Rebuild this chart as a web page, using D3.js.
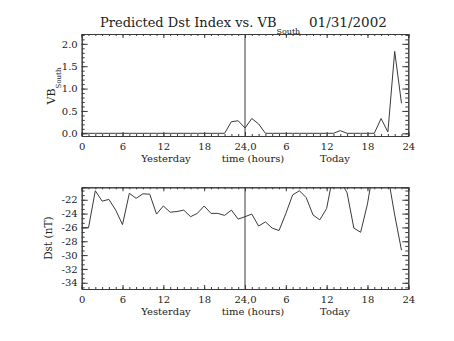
<!DOCTYPE html>
<html><head><meta charset="utf-8">
<script src="https://cdn.jsdelivr.net/npm/d3@7"></script>
<style>
html,body{margin:0;padding:0;background:#fff;}
text{font-family:"DejaVu Serif",serif;fill:#222;}
</style></head>
<body><svg id="c" width="454" height="341"></svg>
<script>
// ---- data ----
const hours = [0,1,2,3,4,5,6,7,8,9,10,11,12,13,14,15,16,17,18,19,20,21,22,23,
               24,25,26,27,28,29,30,31,32,33,34,35,36,37,38,39,40,41,42,43,44,45,46,47];
const vbSouth = [0,0,0,0,0,0,0,0,0,0,0,0,0,0,0,0,0,0,0,0,0,0,0.26,0.28,
                 0.12,0.33,0.21,0,0,0,0,0,0,0,0,0,0,0,0.06,0,0,0,0,0,0.33,0.03,1.83,0.67];
const dst = [-26.0,-26.05,-20.7,-22.2,-21.95,-23.5,-25.6,-21.07,-21.8,-21.14,-21.2,-24.07,
             -22.9,-23.8,-23.7,-23.5,-24.45,-23.97,-22.9,-23.97,-23.97,-24.26,-23.5,-24.8,
             -24.45,-24.07,-25.8,-25.2,-26.1,-26.45,-24.0,-21.3,-20.7,-21.7,-24.2,-24.9,
             -23.25,-18.2,-19.2,-21.0,-26.1,-26.7,-22.6,-16.8,-17.5,-18.5,-24.2,-29.3];
const xTickValues = [0,6,12,18,24,30,36,42,48];
const xTickLabels = ["0","6","12","18","24,0","6","12","18","24"];
const vbTickValues = [0,0.5,1.0,1.5,2.0];
const vbTickLabels = ["0.0","0.5","1.0","1.5","2.0"];
const dstTickValues = [-34,-32,-30,-28,-26,-24,-22];
const dstTickLabels = ["-34","-32","-30","-28","-26","-24","-22"];
const xNames = ["Yesterday","time (hours)","Today"];
const titleMain = "Predicted Dst Index vs. VB";
const titleSub = "South";
const titleDate = "01/31/2002";
const vbLabel = "VB", vbLabelSub = "South";
const dstLabel = "Dst (nT)";

// ---- layout ----
const svg = d3.select("#c");
const L = 81.7, R = 408.3;
const ink = "#3a3a3a";
const fs = 10;
const x = d3.scaleLinear().domain([0,48]).range([L,R]);

function panel(top, bottom, yDomain, majors, majorLabels, minorStep, values, yLabelFn, clipId){
  const y = d3.scaleLinear().domain(yDomain).range([bottom, top]);
  const g = svg.append("g");
  const yMinors = [];
  const start = Math.ceil((yDomain[0]-1e-9)/minorStep);
  for(let k=start; k*minorStep<=yDomain[1]+1e-9; k++) yMinors.push(k*minorStep);
  const xMinors = d3.range(0,49,1);
  const axB = d3.axisBottom(x).tickValues(xMinors).tickSize(-2).tickFormat("");
  const axBmaj = d3.axisBottom(x).tickValues(xTickValues).tickSize(-4).tickPadding(7)
      .tickFormat((d,i)=>xTickLabels[i]);
  const axT = d3.axisTop(x).tickValues(xMinors).tickSize(-2).tickFormat("");
  const axTmaj = d3.axisTop(x).tickValues(xTickValues).tickSize(-4).tickFormat("");
  const axL = d3.axisLeft(y).tickValues(yMinors).tickSize(-3).tickFormat("");
  const axLmaj = d3.axisLeft(y).tickValues(majors).tickSize(-6).tickPadding(4)
      .tickFormat((d,i)=>majorLabels[i]);
  const axR = d3.axisRight(y).tickValues(yMinors).tickSize(-3).tickFormat("");
  const axRmaj = d3.axisRight(y).tickValues(majors).tickSize(-6).tickFormat("");
  const put = (ax, tr) => {
    const a = g.append("g").attr("transform", tr).call(ax);
    a.select(".domain").attr("stroke", ink);
    a.selectAll(".tick line").attr("stroke", ink);
    a.selectAll("text").attr("font-family","DejaVu Serif").attr("font-size",fs).attr("fill","#222");
    return a;
  };
  put(axB, `translate(0,${bottom})`);
  put(axBmaj, `translate(0,${bottom})`);
  put(axT, `translate(0,${top})`);
  put(axTmaj, `translate(0,${top})`);
  put(axL, `translate(${L},0)`);
  put(axLmaj, `translate(${L},0)`);
  put(axR, `translate(${R},0)`);
  put(axRmaj, `translate(${R},0)`);
  g.append("line").attr("x1",x(24)).attr("x2",x(24)).attr("y1",top).attr("y2",bottom)
    .attr("stroke",ink).attr("stroke-width",1);
  svg.append("clipPath").attr("id",clipId).append("rect")
    .attr("x",L).attr("y",top).attr("width",R-L).attr("height",bottom-top);
  const line = d3.line().x((d,i)=>x(hours[i])).y(d=>y(d));
  g.append("path").datum(values).attr("d",line).attr("fill","none")
    .attr("stroke",ink).attr("stroke-width",1).attr("clip-path",`url(#${clipId})`);
  const nameY = bottom + 26;
  [[166,xNames[0]],[253,xNames[1]],[335,xNames[2]]].forEach(([cx,t])=>{
    g.append("text").attr("x",cx).attr("y",nameY).attr("text-anchor","middle")
      .attr("font-size",fs).text(t);
  });
  yLabelFn(g, (top+bottom)/2);
  return y;
}

panel(34, 136, [-0.06, 2.22], vbTickValues, vbTickLabels, 0.1, vbSouth, (g, cy)=>{
  const t = g.append("text").attr("transform",`translate(55,${cy+1}) rotate(-90)`)
    .attr("text-anchor","middle").attr("font-size",11);
  t.append("tspan").text(vbLabel);
  t.append("tspan").attr("font-size",7).attr("dy",6).text(vbLabelSub);
}, "clipA");

panel(187.3, 289, [-34.9, -20.2], dstTickValues, dstTickLabels, 2/3, dst, (g, cy)=>{
  g.append("text").attr("transform",`translate(52,${cy}) rotate(-90)`)
    .attr("text-anchor","middle").attr("font-size",10.5).text(dstLabel);
}, "clipB");

// title
const tt = svg.append("text").attr("x",100).attr("y",27).attr("font-size",13);
tt.append("tspan").text(titleMain);
tt.append("tspan").attr("font-size",8).attr("dy",7).text(titleSub);
svg.append("text").attr("x",309).attr("y",27).attr("font-size",13.5).text(titleDate);
</script></body></html>
